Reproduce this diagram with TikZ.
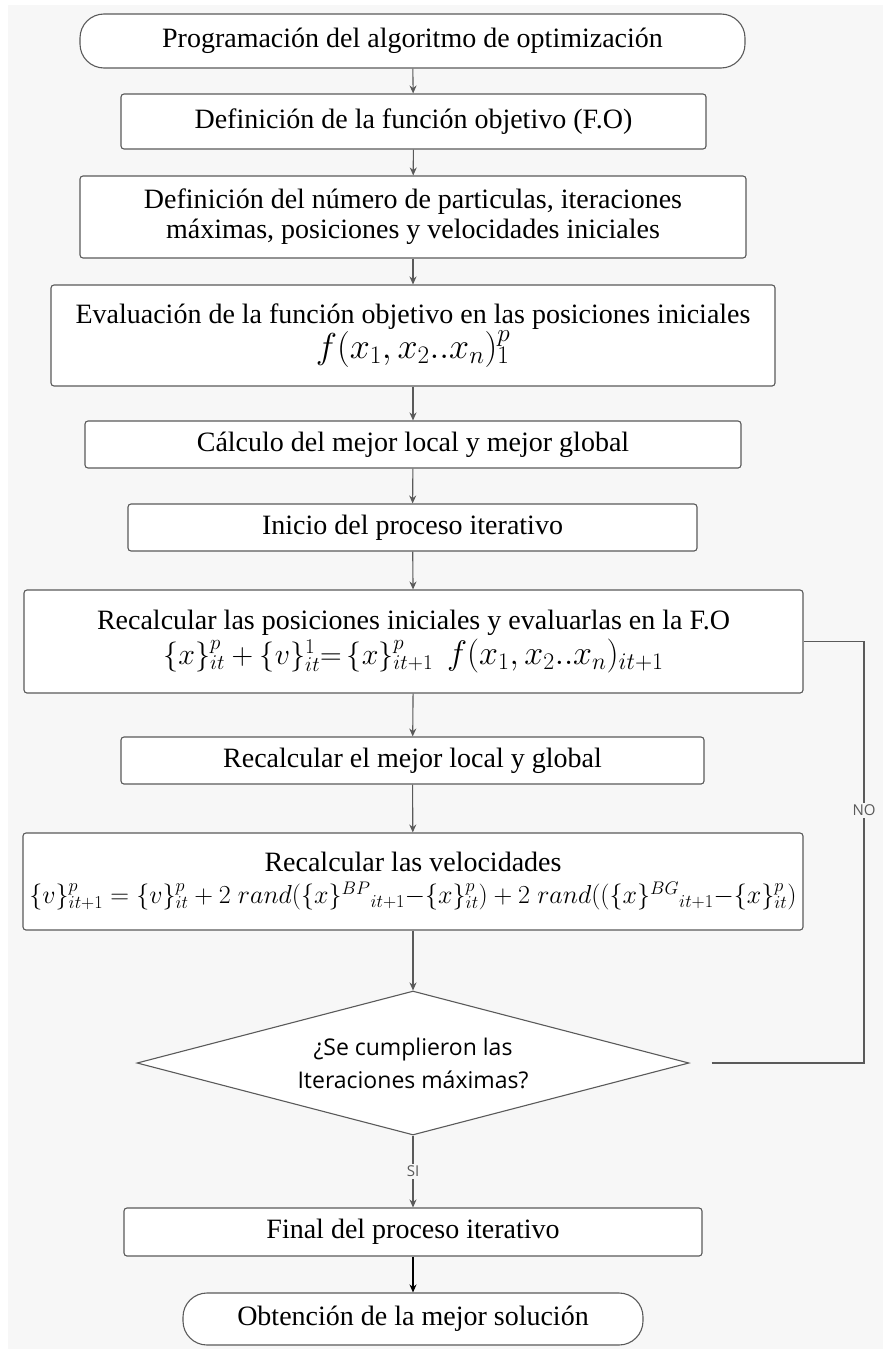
\documentclass[tikz,border=0pt]{standalone}
\usepackage{fix-cm}
\usepackage{fontspec}
\setmainfont{Liberation Serif}
\newfontfamily\osans{Open Sans}
\usetikzlibrary{shapes.geometric,arrows.meta}
\definecolor{linegray}{HTML}{5A5A5A}
\definecolor{bggray}{HTML}{F7F7F7}
\begin{document}
\begin{tikzpicture}[x=1pt,y=-1pt,
  box/.style={draw=linegray, fill=white, rounded corners=3pt, line width=1.1pt,
    align=center, inner sep=0pt, font=\fontsize{28}{30}\selectfont},
  term/.style={box, rounded corners=24pt},
  arr/.style={-{Stealth[length=8pt,width=7pt]}, draw=linegray, line width=1.1pt},
  lbl/.style={font=\osans\fontsize{15}{17}\selectfont, text=linegray, fill=bggray, inner sep=2pt},
  loopline/.style={draw=linegray, line width=1.3pt}]
\useasboundingbox (0,0) rectangle (883,1349);
\fill[white] (0,0) rectangle (883,1349);
\fill[bggray] (8,5) rectangle (883,1349);

\node[term, minimum width=665pt, minimum height=54pt] (start) at (412.5,41)
  {Programación del algoritmo de optimización};
\node[box, minimum width=585pt, minimum height=55pt] (b2) at (413.5,121.5)
  {Definición de la función objetivo (F.O)};
\node[box, minimum width=666pt, minimum height=82pt] (b3) at (413,217)
  {Definición del número de particulas, iteraciones\\máximas, posiciones y velocidades iniciales};
\node[box, minimum width=724pt, minimum height=101pt] (b4) at (413,335.5)
  {Evaluación de la función objetivo en las posiciones iniciales\\[0pt]
   {\fontsize{36}{38}\selectfont$f(x_1,x_2..x_n)^{p}_{1}$}};
\node[box, minimum width=656pt, minimum height=47pt] (b5) at (413,444.5)
  {Cálculo del mejor local y mejor global};
\node[box, minimum width=569pt, minimum height=47pt] (b6) at (412.5,527.5)
  {Inicio del proceso iterativo};
\node[box, minimum width=779pt, minimum height=103pt] (b7) at (413.5,641.5)
  {Recalcular las posiciones iniciales y evaluarlas en la F.O\\[2pt]
   {\fontsize{30}{34}\selectfont$\{x\}^{p}_{it}+\{v\}^{1}_{it}{=}\,\{x\}^{p}_{it+1}$}\enspace
   {\fontsize{34}{36}\selectfont$f(x_1,x_2..x_n)_{it+1}$}};
\node[box, minimum width=583pt, minimum height=47pt] (b8) at (412.5,760.5)
  {Recalcular el mejor local y global};
\node[box, minimum width=780pt, minimum height=97pt] (b9) at (413,881.5)
  {Recalcular las velocidades\\[2pt]
   {\fontsize{26}{30}\selectfont$\{v\}^{p}_{it+1}=\{v\}^{p}_{it}+2\;rand(\{x\}^{BP}{}_{it+1}{-}\{x\}^{p}_{it})+2\;rand((\{x\}^{BG}{}_{it+1}{-}\{x\}^{p}_{it})$}};
\node[diamond, draw=linegray, fill=white, line width=1.1pt, aspect=3.8, inner sep=0pt,
  minimum width=552pt, minimum height=144pt, align=center,
  font=\osans\fontsize{23}{33}\selectfont] (dia) at (413,1063)
  {¿Se cumplieron las\\Iteraciones máximas?};
\node[box, minimum width=578pt, minimum height=48pt] (b10) at (413,1232)
  {Final del proceso iterativo};
\node[term, minimum width=460pt, minimum height=52pt] (end) at (413,1319)
  {Obtención de la mejor solución};

\draw[arr] (start) -- (b2);
\draw[arr] (b2) -- (b3);
\draw[arr] (b3) -- (b4);
\draw[arr] (b4) -- (b5);
\draw[arr] (b5) -- (b6);
\draw[arr] (b6) -- (b7);
\draw[arr] (b7) -- (b8);
\draw[arr] (b8) -- (b9);
\draw[arr] (b9) -- (dia);
\draw[arr] (dia) -- node[lbl] {SI} (b10);
\draw[arr, draw=black] (b10) -- (end);

\coordinate (loop) at (864,1063);
\draw[loopline, shorten <=22pt] (dia.east) -- (loop) |- node[lbl, pos=0.3] {NO} (b7.east);
\end{tikzpicture}
\end{document}
